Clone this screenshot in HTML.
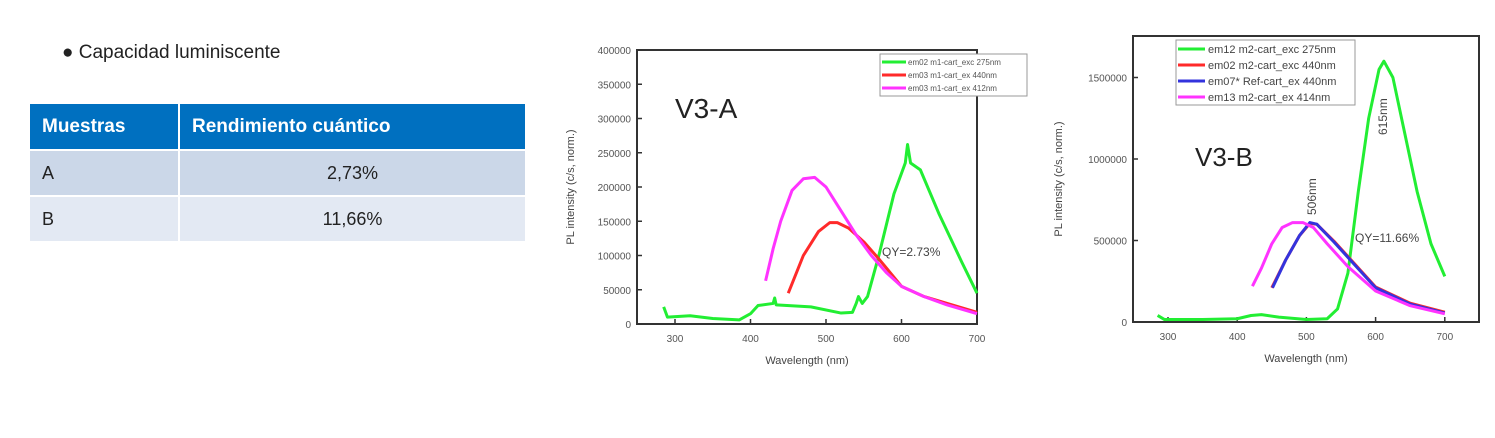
<!DOCTYPE html>
<html><head><meta charset="utf-8"><style>
body{margin:0;width:1495px;height:438px;background:#fff;overflow:hidden;font-family:"Liberation Sans","DejaVu Sans",sans-serif;position:relative}
.b{position:absolute;left:62px;top:42px;font-size:19px;color:#222}
table{position:absolute;left:28px;top:102px;border-collapse:collapse;font-size:18px;color:#222}
td{border:2px solid #fff;padding:0 12px;height:44px}
th{border:2px solid #fff;background:#0070c0;color:#fff;text-align:left;height:45px;padding:0 12px;font-size:19px}
svg{position:absolute;left:0;top:0}
</style></head><body>
<div class="b">● Capacidad luminiscente</div>
<table>
<tr><th style="width:124px">Muestras</th><th style="width:321px">Rendimiento cuántico</th></tr>
<tr style="background:#cbd7e8"><td>A</td><td style="text-align:center">2,73%</td></tr>
<tr style="background:#e3e9f3"><td>B</td><td style="text-align:center">11,66%</td></tr>
</table>
<svg id="s" width="1495" height="438" font-family="Liberation Sans, sans-serif"></svg>
<script>
const s=document.getElementById('s');let h='';
function chart(o){
 const X=v=>o.x0+(v-300)*o.kx, Y=v=>o.y0-v*o.ky;
 h+=`<rect x="${o.L}" y="${o.T}" width="${o.R-o.L}" height="${o.y0-o.T}" fill="none" stroke="#333" stroke-width="2"/>`;
 for(let v=300;v<=700;v+=100){h+=`<line x1="${X(v)}" y1="${o.y0}" x2="${X(v)}" y2="${o.y0-5}" stroke="#333" stroke-width="1.5"/><text x="${X(v)}" y="${o.y0+18}" font-size="10" fill="#555" text-anchor="middle">${v}</text>`;}
 for(let v=0;v<=o.ymax;v+=o.ystep){h+=`<line x1="${o.L}" y1="${Y(v)}" x2="${o.L+5}" y2="${Y(v)}" stroke="#333" stroke-width="1.5"/><text x="${o.L-6}" y="${Y(v)+4}" font-size="10" fill="#555" text-anchor="end">${v}</text>`;}
 h+=`<text x="${(o.L+o.R)/2}" y="${o.y0+40}" font-size="11" fill="#444" text-anchor="middle">Wavelength (nm)</text>`;
 h+=`<text transform="translate(${o.yl},${(o.T+o.y0)/2}) rotate(-90)" font-size="11" fill="#444" text-anchor="middle">PL intensity (c/s, norm.)</text>`;
 o.series.forEach(([c,pts])=>{h+=`<polyline fill="none" stroke="${c}" stroke-width="3" stroke-linejoin="round" points="${pts.map(p=>X(p[0])+','+Y(p[1]*1000)).join(' ')}"/>`;});
}
chart({L:637,R:977,T:50,y0:324,x0:675,kx:0.755,ky:34.25/50000,ymax:400000,ystep:50000,yl:574,series:[
['#22ee33',[[285,25],[290,10],[320,12],[350,8],[385,6],[400,15],[410,27],[430,30],[432,38],[434,28],[480,25],[520,16],[535,17],[540,30],[543,40],[548,30],[555,40],[570,100],[590,190],[605,235],[608,262],[612,235],[625,225],[650,160],[680,90],[700,45]]],
['#ff2a2a',[[450,45],[470,100],[490,135],[505,148],[515,148],[530,140],[550,120],[570,95],[600,55],[630,40],[700,17]]],
['#ff33ff',[[420,63],[430,110],[440,150],[455,195],[470,212],[485,214],[500,200],[520,165],[540,130],[560,100],[580,75],[600,55],[630,40],[660,28],[700,15]]]
]});
chart({L:1133,R:1479,T:36,y0:322,x0:1168,kx:0.692,ky:81.5/500000,ymax:1500000,ystep:500000,yl:1062,series:[
['#22ee33',[[285,40],[295,15],[350,15],[400,20],[420,40],[435,45],[460,30],[500,15],[530,20],[545,80],[560,300],[575,800],[590,1250],[605,1550],[612,1600],[625,1500],[640,1200],[660,800],[680,480],[700,280]]],
['#ff2a2a',[[450,210],[470,380],[490,530],[505,605],[515,600],[540,495],[570,355],[600,215],[650,115],[700,60]]],
['#3333dd',[[451,210],[470,380],[490,530],[505,610],[515,600],[540,490],[570,350],[600,210],[650,110],[700,55]]],
['#ff33ff',[[422,220],[435,330],[450,480],[465,580],[480,610],[495,610],[510,580],[530,480],[560,340],[600,190],[650,100],[700,50]]]
]});
h+=`<rect x="880" y="54" width="147" height="42" fill="#fff" stroke="#999"/>`;
[['#22ee33','em02 m1-cart_exc 275nm'],['#ff2a2a','em03 m1-cart_ex 440nm'],['#ff33ff','em03 m1-cart_ex 412nm']].forEach((l,i)=>{const y=62+i*13;h+=`<line x1="882" y1="${y}" x2="906" y2="${y}" stroke="${l[0]}" stroke-width="3"/><text x="908" y="${y+3}" font-size="8" fill="#555">${l[1]}</text>`;});
h+=`<rect x="1176" y="40" width="179" height="65" fill="#fff" stroke="#999"/>`;
[['#22ee33','em12 m2-cart_exc 275nm'],['#ff2a2a','em02 m2-cart_exc 440nm'],['#3333dd','em07* Ref-cart_ex 440nm'],['#ff33ff','em13 m2-cart_ex 414nm']].forEach((l,i)=>{const y=49+i*16;h+=`<line x1="1178" y1="${y}" x2="1205" y2="${y}" stroke="${l[0]}" stroke-width="3"/><text x="1208" y="${y+4}" font-size="11" fill="#444">${l[1]}</text>`;});
h+=`<text x="675" y="118" font-size="28" fill="#222">V3-A</text><text x="1195" y="166" font-size="26" fill="#222">V3-B</text>`;
h+=`<text x="882" y="256" font-size="12" fill="#444">QY=2.73%</text><text x="1355" y="242" font-size="12" fill="#444">QY=11.66%</text>`;
h+=`<text transform="translate(1316,215) rotate(-90)" font-size="12" fill="#444" text-anchor="start">506nm</text><text transform="translate(1387,135) rotate(-90)" font-size="12" fill="#444" text-anchor="start">615nm</text>`;
s.innerHTML=h;
</script>
</body></html>
